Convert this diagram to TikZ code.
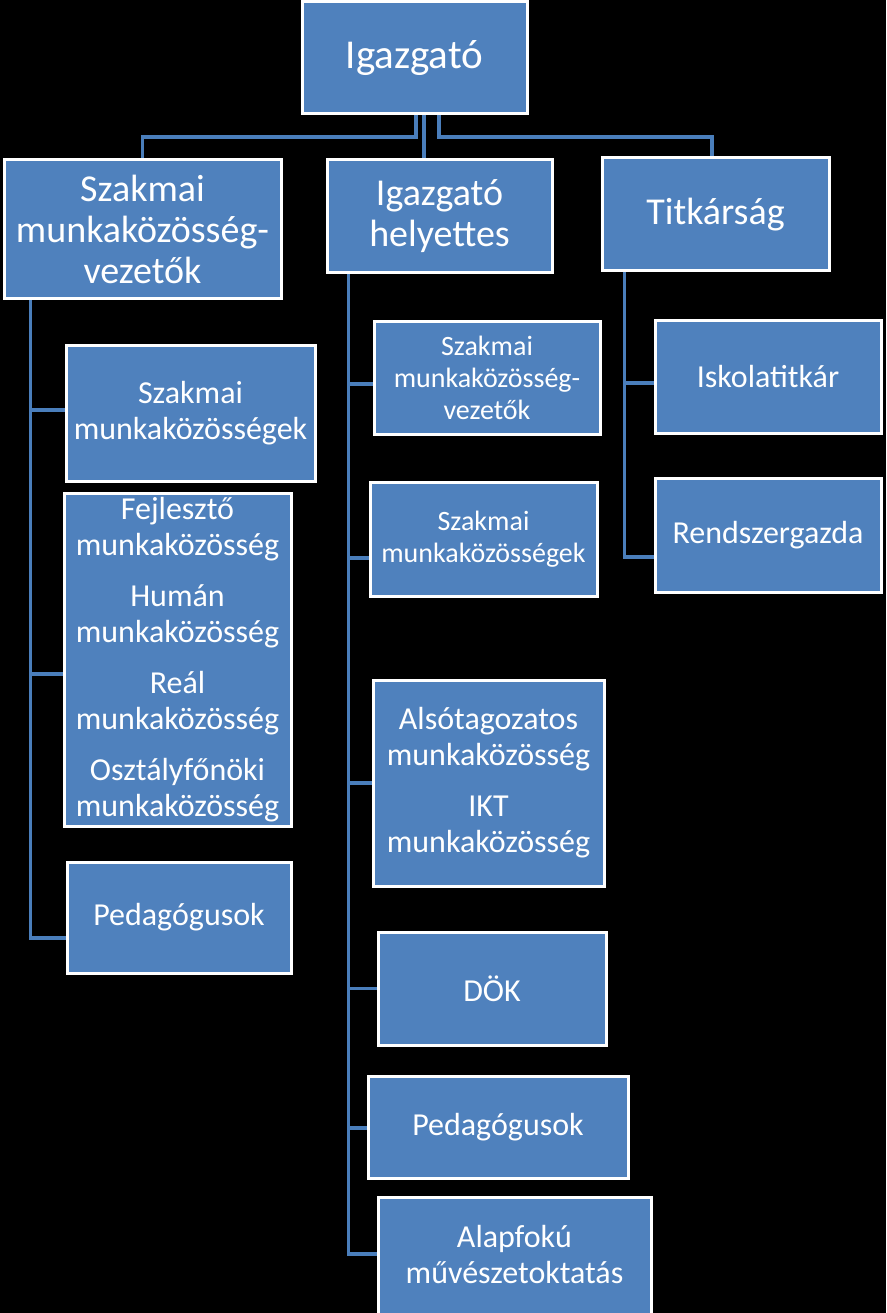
\documentclass[tikz,border=0pt]{standalone}
\usepackage{fontspec}
\setmainfont{Carlito}
\definecolor{boxblue}{RGB}{79,129,189}
\definecolor{connblue}{RGB}{74,126,187}
\pgfdeclarelayer{bglayer}
\pgfdeclarelayer{connlayer}
\pgfsetlayers{bglayer,connlayer,main}
\tikzset{
  orgbox/.style={draw=white, line width=3pt, fill=boxblue, text=white, inner sep=0pt, align=center, font=\fontsize{32}{36}\selectfont},
  bigtxt/.style={font=\fontsize{38}{41}\selectfont},
  smalltxt/.style={font=\fontsize{28}{32}\selectfont},
  conn/.style={draw=connblue, line width=3.5pt}
}
\begin{document}
\begin{tikzpicture}[x=1pt,y=-1pt]
\begin{pgfonlayer}{bglayer}
\fill[black] (0,0) rectangle (886,1313);
\end{pgfonlayer}
\useasboundingbox (0,0) rectangle (886,1313);

\node[orgbox, minimum width=225pt, minimum height=112pt, font=\fontsize{41}{44}\selectfont] (top) at (414.5,58) {\raisebox{-4pt}{Igazgató}};

\node[orgbox, bigtxt, minimum width=277pt, minimum height=139pt] (l1) at (142.5,229.5) {Szakmai\\munkaközösség-\\vezetők};
\node[orgbox, bigtxt, minimum width=225pt, minimum height=113pt] (m1) at (439.5,216.5) {Igazgató\\helyettes};
\node[orgbox, bigtxt, minimum width=227pt, minimum height=113pt] (r1) at (715.5,214.5) {Titkárság};

\node[orgbox, minimum width=249pt, minimum height=136pt] (a1) at (190.5,413) {Szakmai\\munkaközösségek};
\node[orgbox, minimum width=227pt, minimum height=333pt] (a2) at (177.5,659.5) {Fejlesztő\\munkaközösség\\[15pt]Humán\\munkaközösség\\[15pt]Reál\\munkaközösség\\[15pt]Osztályfőnöki\\munkaközösség};
\node[orgbox, minimum width=224pt, minimum height=111pt] (a3) at (179,917.5) {Pedagógusok};

\node[orgbox, smalltxt, minimum width=226pt, minimum height=113pt] (b1) at (487,377.5) {Szakmai\\munkaközösség-\\vezetők};
\node[orgbox, smalltxt, minimum width=227pt, minimum height=114pt] (b2) at (483.5,539) {Szakmai\\munkaközösségek};
\node[orgbox, minimum width=231pt, minimum height=206pt] (b3) at (488.5,783) {Alsótagozatos\\munkaközösség\\[15pt]IKT\\munkaközösség};
\node[orgbox, minimum width=228pt, minimum height=113pt] (b4) at (492,988.5) {DÖK};
\node[orgbox, minimum width=260pt, minimum height=102pt] (b5) at (498,1127) {Pedagógusok};
\node[orgbox, minimum width=273pt, minimum height=122pt] (b6) at (514.5,1258) {\raisebox{2pt}{\begin{tabular}{@{}c@{}}Alapfokú\\művészetoktatás\end{tabular}}};

\node[orgbox, minimum width=226pt, minimum height=113pt] (c1) at (768,376.5) {Iskolatitkár};
\node[orgbox, minimum width=226pt, minimum height=114pt] (c2) at (768,535) {Rendszergazda};

\begin{pgfonlayer}{connlayer}
\coordinate (bus) at (0,137);
\draw[conn] ([xshift=1.5pt]top.south) |- (l1.north |- bus) -- (l1.north);
\draw[conn] ([xshift=9.5pt]top.south) -- ([xshift=9.5pt]top.south |- m1.north);
\draw[conn] ([xshift=24.5pt]top.south) |- ([xshift=-3.5pt]r1.north |- bus) -- ([xshift=-3.5pt]r1.north);

\coordinate (lx) at ([xshift=28pt]l1.south west);
\draw[conn] (lx) |- ([yshift=3pt]a1.west);
\draw[conn] (lx) |- ([yshift=-14.5pt]a2.west);
\draw[conn] (lx) |- ([yshift=-20.5pt]a3.west);

\coordinate (mx) at ([xshift=23pt]m1.south west);
\draw[conn] (mx) |- ([yshift=-6.5pt]b1.west);
\draw[conn] (mx) |- ([yshift=-19pt]b2.west);
\draw[conn] (mx) |- (b3.west);
\draw[conn] (mx) |- (b4.west);
\draw[conn] (mx) |- ([yshift=-1pt]b5.west);
\draw[conn] (mx) |- ([yshift=4pt]b6.west);

\coordinate (rx) at ([xshift=24pt]r1.south west);
\draw[conn] (rx) |- ([yshift=-6.5pt]c1.west);
\draw[conn] (rx) |- ([yshift=-22pt]c2.west);
\end{pgfonlayer}
\end{tikzpicture}
\end{document}
